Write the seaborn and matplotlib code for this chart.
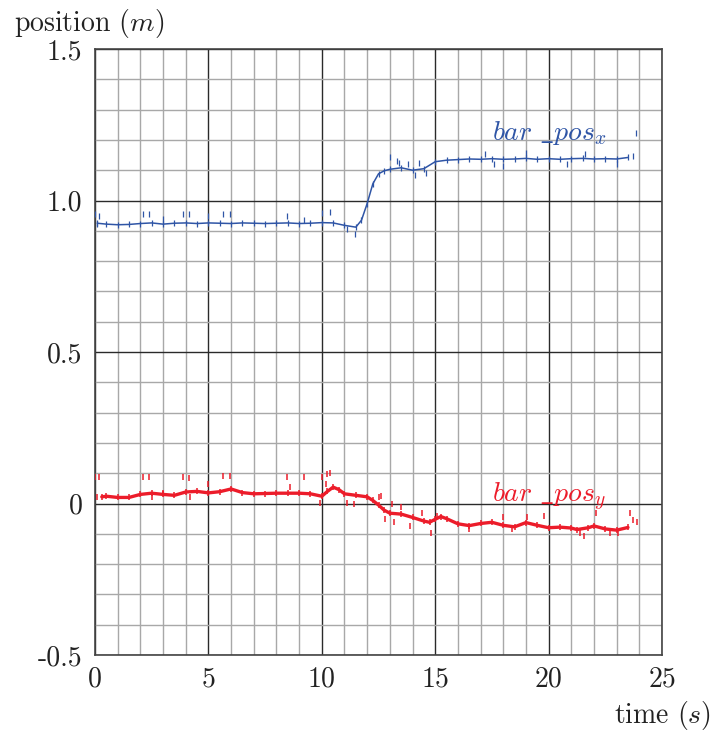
import numpy as np
import pandas as pd
import matplotlib
matplotlib.use("Agg")
import matplotlib.pyplot as plt
from matplotlib.ticker import MultipleLocator, FixedLocator, FixedFormatter
import seaborn as sns

# ---- data ----
blue_t = [0.1, 0.5, 1.0, 1.5, 2.0, 2.5, 3.0, 3.5, 4.0, 4.5, 5.0, 5.5, 6.0, 6.5, 7.0, 7.5,
          8.0, 8.5, 9.0, 9.5, 10.0, 10.5, 11.0, 11.5, 11.75, 12.0, 12.25, 12.5, 12.75, 13.0,
          13.5, 14.0, 14.5, 15.0, 15.5, 16.0, 16.5, 17.0, 17.5, 18.0, 18.5, 19.0, 19.5,
          20.0, 20.5, 21.0, 21.5, 22.0, 22.5, 23.0, 23.5]
blue_v = [0.925, 0.922, 0.920, 0.921, 0.924, 0.926, 0.922, 0.925, 0.926, 0.924, 0.926,
          0.925, 0.924, 0.926, 0.925, 0.924, 0.925, 0.926, 0.924, 0.925, 0.927, 0.926,
          0.918, 0.912, 0.935, 0.990, 1.055, 1.088, 1.098, 1.103, 1.108, 1.100, 1.105,
          1.128, 1.133, 1.135, 1.137, 1.136, 1.138, 1.136, 1.137, 1.139, 1.136, 1.138,
          1.136, 1.138, 1.139, 1.137, 1.138, 1.137, 1.142]

red_t = [0.3, 0.5, 1.0, 1.5, 2.0, 2.5, 3.0, 3.5, 4.0, 4.5, 5.0, 5.5, 6.0, 6.5, 7.0, 7.5,
         8.0, 8.5, 9.0, 9.5, 10.0, 10.25, 10.5, 10.75, 11.0, 11.5, 12.0, 12.25, 12.5,
         12.75, 13.0, 13.5, 14.0, 14.5, 14.75, 15.0, 15.25, 15.5, 16.0, 16.5, 17.0, 17.5,
         18.0, 18.5, 19.0, 19.5, 20.0, 20.5, 21.0, 21.25, 21.75, 22.0, 22.5, 23.0, 23.5]
red_v = [0.022, 0.024, 0.020, 0.020, 0.030, 0.034, 0.030, 0.027, 0.038, 0.040, 0.035,
         0.039, 0.048, 0.036, 0.032, 0.033, 0.034, 0.034, 0.034, 0.032, 0.024, 0.040,
         0.054, 0.046, 0.032, 0.027, 0.022, 0.010, -0.005, -0.022, -0.032, -0.035,
         -0.046, -0.058, -0.062, -0.052, -0.043, -0.050, -0.067, -0.073, -0.066, -0.062,
         -0.072, -0.077, -0.063, -0.072, -0.080, -0.078, -0.081, -0.086, -0.080, -0.074,
         -0.084, -0.088, -0.079]

# isolated noisy samples (spikes)
blue_spike_t = [0.0, 0.18, 0.08, 2.1, 2.38, 3.0, 3.9, 4.15, 5.0, 5.65, 5.95, 8.45, 9.2,
                10.0, 10.35, 11.1, 11.46, 13.0, 13.3, 13.4, 13.8, 14.1, 14.6, 14.3, 17.2,
                17.6, 18.0, 19.0, 20.8, 21.6, 23.0, 23.7, 23.85]
blue_spike_v = [0.957, 0.950, 0.924, 0.957, 0.954, 0.940, 0.954, 0.954, 0.950, 0.957,
                0.957, 0.950, 0.934, 0.960, 0.963, 0.905, 0.888, 1.142, 1.132, 1.125,
                1.120, 1.083, 1.092, 1.125, 1.155, 1.122, 1.115, 1.158, 1.122, 1.155,
                1.122, 1.148, 1.224]

red_spike_t = [0.0, 0.19, 0.08, 2.1, 2.38, 2.5, 3.0, 3.9, 4.15, 4.2, 5.0, 5.65, 5.95,
               8.45, 8.6, 9.2, 9.9, 10.0, 10.2, 10.25, 10.35, 11.1, 11.4, 12.5, 12.6,
               12.8, 13.1, 13.2, 13.5, 13.9, 14.4, 14.8, 15.1, 16.5, 18.0, 18.4, 19.05,
               19.8, 21.4, 21.55, 22.1, 22.7, 23.05, 23.6, 23.7, 23.9]
red_spike_v = [0.086, 0.086, 0.020, 0.089, 0.089, 0.020, 0.036, 0.086, 0.083, 0.020,
               0.066, 0.092, 0.092, 0.089, 0.053, 0.086, 0.003, 0.086, 0.066, 0.099,
               0.100, 0.003, 0.000, 0.023, 0.026, -0.050, 0.000, -0.062, -0.013, -0.073,
               -0.033, -0.099, -0.040, -0.083, -0.046, -0.083, -0.046, -0.040, -0.099,
               -0.106, -0.033, -0.096, -0.099, -0.033, -0.056, -0.062]

x_ticks = [0, 5, 10, 15, 20, 25]
x_labels = ["0", "5", "10", "15", "20", "25"]
y_ticks = [-0.5, 0.0, 0.5, 1.0, 1.5]
y_labels = ["-0.5", "0", "0.5", "1.0", "1.5"]

BLUE = "#2f55a6"
RED = "#ec1c2a"

# ---- style ----
sns.set_style("white")
plt.rcParams["font.family"] = ["cmr10", "DejaVu Serif"]
plt.rcParams["mathtext.fontset"] = "cm"
plt.rcParams["axes.unicode_minus"] = False

fig = plt.figure(figsize=(7.15, 7.33), dpi=100)
ax = fig.add_axes([95 / 715, 78 / 733, 567 / 715, 606 / 733])

blue_df = pd.DataFrame({"t": blue_t, "v": blue_v})
red_df = pd.DataFrame({"t": red_t, "v": red_v})
bs_df = pd.DataFrame({"t": blue_spike_t, "v": blue_spike_v})
rs_df = pd.DataFrame({"t": red_spike_t, "v": red_spike_v})

sns.lineplot(data=red_df, x="t", y="v", ax=ax, color=RED, lw=2.4, zorder=5)
sns.scatterplot(data=red_df, x="t", y="v", ax=ax, color=RED, marker="|", s=18,
                linewidth=1.1, zorder=5)
sns.scatterplot(data=rs_df, x="t", y="v", ax=ax, color=RED, marker="|", s=22,
                linewidth=1.1, zorder=5)

sns.lineplot(data=blue_df, x="t", y="v", ax=ax, color=BLUE, lw=1.1, zorder=5)
sns.scatterplot(data=blue_df, x="t", y="v", ax=ax, color=BLUE, marker="|", s=14,
                linewidth=0.9, zorder=5)
sns.scatterplot(data=bs_df, x="t", y="v", ax=ax, color=BLUE, marker="|", s=20,
                linewidth=0.9, zorder=5)

ax.set_xlim(0, 25)
ax.set_ylim(-0.5, 1.5)
ax.xaxis.set_major_locator(FixedLocator(x_ticks))
ax.xaxis.set_major_formatter(FixedFormatter(x_labels))
ax.yaxis.set_major_locator(FixedLocator(y_ticks))
ax.yaxis.set_major_formatter(FixedFormatter(y_labels))
ax.xaxis.set_minor_locator(MultipleLocator(1))
ax.yaxis.set_minor_locator(MultipleLocator(0.1))
ax.grid(which="minor", color="#a8a8a8", lw=1.0, zorder=0)
ax.grid(which="major", color="#2a2a2a", lw=1.0, zorder=1)
ax.set_axisbelow(True)
ax.tick_params(which="both", length=0, labelsize=20, colors="#222222")
ax.tick_params(axis="x", pad=8)
ax.tick_params(axis="y", pad=9)
for s in ax.spines.values():
    s.set_color("#444444")
    s.set_linewidth(1.2)
ax.set_xlabel("")
ax.set_ylabel("")

fig.text(14 / 715, 1 - 24 / 733, "position $(m)$", fontsize=20, ha="left", va="center",
         color="#222222")
fig.text(711 / 715, 1 - 716 / 733, "time $(s)$", fontsize=20, ha="right", va="center",
         color="#222222")

ax.text(17.5, 1.222, r"$bar\ \_pos_x$", color=BLUE, fontsize=20, ha="left", va="center")
ax.text(17.5, 0.022, r"$bar\ \_pos_y$", color=RED, fontsize=20, ha="left", va="center")

fig.savefig("out.png", dpi=100)
